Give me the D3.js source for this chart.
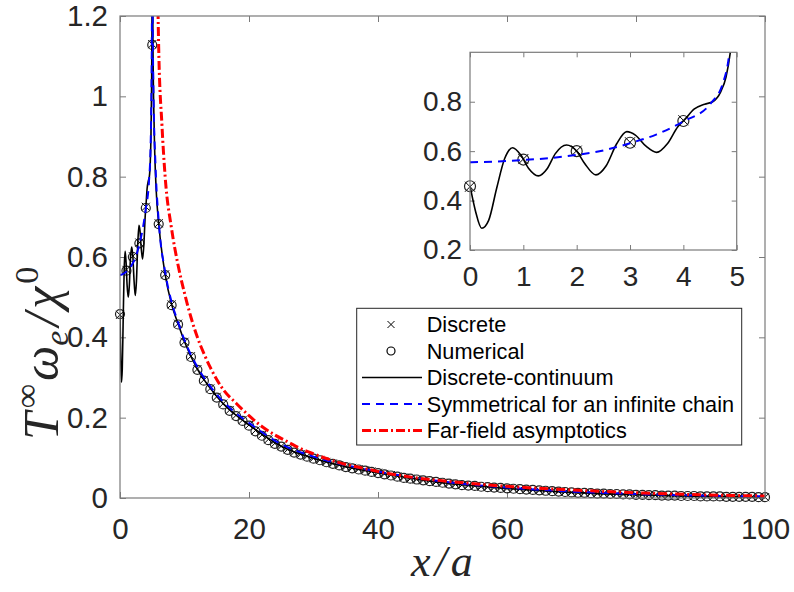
<!DOCTYPE html>
<html>
<head>
<meta charset="utf-8">
<script src="https://cdn.jsdelivr.net/npm/d3@7"></script>
<style>
  body { margin: 0; background: #fff; }
  svg { display: block; }
</style>
</head>
<body>
<svg id="chart" width="794" height="592"></svg>
<script>
// ---- data ----
const markerX = d3.range(0, 101); // sites x/a = 0..100

const discreteY = [
  0.456, 0.568, 0.602, 0.636, 0.725, 1.130, 0.684, 0.557, 0.482, 0.434,
  0.389, 0.353, 0.321, 0.294, 0.273, 0.252, 0.235, 0.219, 0.206, 0.194,
  0.182, 0.168, 0.157, 0.146, 0.136, 0.129, 0.121, 0.114, 0.109, 0.104,
  0.099, 0.095, 0.090, 0.086, 0.082, 0.078, 0.075, 0.072, 0.069, 0.066,
  0.063, 0.060, 0.057, 0.054, 0.051, 0.048, 0.046, 0.044, 0.042, 0.040,
  0.038, 0.036, 0.034, 0.032, 0.031, 0.030, 0.028, 0.027, 0.026, 0.025,
  0.024, 0.023, 0.022, 0.021, 0.020, 0.019, 0.018, 0.017, 0.016, 0.015,
  0.014, 0.013, 0.013, 0.012, 0.011, 0.011, 0.010, 0.010, 0.009, 0.009,
  0.008, 0.008, 0.007, 0.007, 0.006, 0.006, 0.006, 0.005, 0.005, 0.005,
  0.004, 0.004, 0.004, 0.004, 0.003, 0.003, 0.003, 0.003, 0.003, 0.002,
  0.002
];

const numericalY = [
  0.458, 0.566, 0.600, 0.634, 0.722, 1.128, 0.682, 0.555, 0.480, 0.432,
  0.387, 0.351, 0.319, 0.292, 0.271, 0.250, 0.233, 0.217, 0.204, 0.192,
  0.180, 0.166, 0.155, 0.144, 0.135, 0.128, 0.120, 0.113, 0.108, 0.103,
  0.098, 0.094, 0.089, 0.085, 0.081, 0.077, 0.074, 0.071, 0.068, 0.065,
  0.062, 0.059, 0.056, 0.053, 0.050, 0.048, 0.046, 0.044, 0.042, 0.040,
  0.038, 0.036, 0.034, 0.032, 0.031, 0.030, 0.028, 0.027, 0.026, 0.025,
  0.024, 0.023, 0.022, 0.021, 0.020, 0.019, 0.018, 0.017, 0.016, 0.015,
  0.014, 0.013, 0.013, 0.012, 0.011, 0.011, 0.010, 0.010, 0.009, 0.009,
  0.008, 0.008, 0.007, 0.007, 0.006, 0.006, 0.006, 0.005, 0.005, 0.005,
  0.004, 0.004, 0.004, 0.004, 0.003, 0.003, 0.003, 0.003, 0.003, 0.002,
  0.002
];

// discrete-continuum (black solid)
const contX = [0, 0.1, 0.22, 0.35, 0.5, 0.65, 0.8, 0.95, 1.1, 1.28, 1.45, 1.6, 1.81, 2.0, 2.15, 2.36,
  2.55, 2.75, 2.94, 3.1, 3.3, 3.5, 3.7, 3.9, 4.02, 4.2, 4.4, 4.55, 4.7, 4.8, 4.88, 4.95, 5.0,
  5.1, 5.3, 5.6, 6, 7, 8, 9, 10, 12, 14, 16, 18, 20, 25, 30, 35, 40, 50, 60, 70, 80, 90, 100];
const contY = [0.46, 0.36, 0.288, 0.32, 0.45, 0.57, 0.614, 0.585, 0.53, 0.50, 0.53, 0.59, 0.625, 0.60, 0.55, 0.504,
  0.54, 0.63, 0.679, 0.665, 0.62, 0.595, 0.63, 0.70, 0.726, 0.77, 0.79, 0.80, 0.84, 0.90, 1.0, 1.15, 1.6,
  1.15, 0.92, 0.77, 0.684, 0.557, 0.482, 0.434, 0.389, 0.321, 0.273, 0.235, 0.206, 0.182, 0.129, 0.099, 0.078, 0.063, 0.038, 0.024, 0.014, 0.008, 0.004, 0.002];

// symmetrical for an infinite chain (blue dashed)
const symX = [0, 0.5, 1, 1.5, 2, 2.5, 3, 3.5, 4, 4.5, 4.75, 4.85, 4.95, 5.0, 5.05, 5.2, 5.5, 6, 7, 8, 9, 10,
  12, 14, 16, 18, 20, 25, 30, 35, 40, 50, 60, 70, 80, 90, 100];
const symY = [0.555, 0.558, 0.564, 0.572, 0.585, 0.603, 0.632, 0.668, 0.72, 0.79, 0.88, 0.976, 1.2, 1.6, 1.25, 1.0, 0.83, 0.69, 0.563, 0.488, 0.438, 0.393,
  0.326, 0.278, 0.240, 0.211, 0.187, 0.134, 0.103, 0.082, 0.066, 0.041, 0.026, 0.016, 0.010, 0.006, 0.004];

// far-field asymptotics (red dash-dot)
const farX = [5.8, 6, 6.5, 7, 8, 9, 10, 11, 12, 13, 14, 15, 16, 18, 20, 22, 24, 26, 28, 30, 34, 38, 42, 46, 50,
  60, 70, 80, 90, 100];
const farY = [1.30, 1.12, 0.93, 0.80, 0.67, 0.58, 0.51, 0.45, 0.40, 0.36, 0.325, 0.295, 0.27, 0.236, 0.205, 0.178, 0.157, 0.14, 0.123, 0.11, 0.088, 0.073, 0.06, 0.05, 0.043,
  0.029, 0.02, 0.013, 0.008, 0.005];

const xTicks = [0, 20, 40, 60, 80, 100];
const yTicks = [0, 0.2, 0.4, 0.6, 0.8, 1, 1.2];
const insetXTicks = [0, 1, 2, 3, 4, 5];
const insetYTicks = [0.2, 0.4, 0.6, 0.8];
const legendLabels = ['Discrete', 'Numerical', 'Discrete-continuum', 'Symmetrical for an infinite chain', 'Far-field asymptotics'];

// ---- drawing ----
const svg = d3.select('#chart');
const axisGray = '#7a7a7a';
const textGray = '#262626';
const font = '"Liberation Sans", Arial, sans-serif';
const mathFont = '"Liberation Serif", "DejaVu Serif", serif';

const x = d3.scaleLinear().domain([0, 100]).range([120, 765]);
const y = d3.scaleLinear().domain([0, 1.2]).range([498, 16]);

const ix = d3.scaleLinear().domain([0, 5]).range([470, 736.7]);
const iy = d3.scaleLinear().domain([0.2, 1.0]).range([250, 52.3]);

const defs = svg.append('defs');
defs.append('clipPath').attr('id', 'clipMain').append('rect')
  .attr('x', 120).attr('y', 16).attr('width', 645).attr('height', 482);
defs.append('clipPath').attr('id', 'clipInset').append('rect')
  .attr('x', ix(0)).attr('y', iy(1.0)).attr('width', ix(5) - ix(0)).attr('height', iy(0.2) - iy(1.0));

function zip(xs, ys) { return xs.map((d, i) => [d, ys[i]]); }

function drawPlot(g, sx, sy, r, crossSize, clipId) {
  const line = d3.line().x(d => sx(d[0])).y(d => sy(d[1])).curve(d3.curveMonotoneX);
  // markers are not clipped, but only those whose centre is inside the axes are drawn
  const [x0, x1] = sx.domain(), [y0, y1] = sy.domain();
  const inside = d => d[0] >= x0 && d[0] <= x1 && d[1] >= y0 && d[1] <= y1;
  const pts = zip(markerX, discreteY).filter(inside);
  const pts2 = zip(markerX, numericalY).filter(inside);

  // Discrete: x markers
  g.append('g').selectAll('path').data(pts).join('path')
    .attr('d', d => {
      const cx = sx(d[0]), cy = sy(d[1]), s = crossSize;
      return `M${cx - s},${cy - s}L${cx + s},${cy + s}M${cx - s},${cy + s}L${cx + s},${cy - s}`;
    })
    .attr('stroke', '#000').attr('stroke-width', 1).attr('fill', 'none');

  // Numerical: circles
  g.append('g').selectAll('circle').data(pts2).join('circle')
    .attr('cx', d => sx(d[0])).attr('cy', d => sy(d[1])).attr('r', r)
    .attr('fill', 'none').attr('stroke', '#222').attr('stroke-width', 1.2);

  const lines = g.append('g').attr('clip-path', `url(#${clipId})`);
  lines.append('path').datum(zip(contX, contY))
    .attr('d', line).attr('fill', 'none').attr('stroke', '#000').attr('stroke-width', 1.6);

  lines.append('path').datum(zip(symX, symY))
    .attr('d', line).attr('fill', 'none').attr('stroke', '#0000ff').attr('stroke-width', 2)
    .attr('stroke-dasharray', '8,6');

  lines.append('path').datum(zip(farX, farY))
    .attr('d', line).attr('fill', 'none').attr('stroke', '#ff0000').attr('stroke-width', 3)
    .attr('stroke-dasharray', '9,3,2,3');
}

function styleAxis(g, fs) {
  g.select('.domain').remove();
  g.selectAll('line').attr('stroke', axisGray);
  g.selectAll('text').attr('fill', textGray).attr('font-size', fs).attr('font-family', font);
}

// main axes
svg.append('rect').attr('x', 120).attr('y', 16).attr('width', 645).attr('height', 482)
  .attr('fill', '#fff');

const fmt = d => String(d);
svg.append('g').attr('transform', 'translate(0,498)')
  .call(d3.axisBottom(x).tickValues(xTicks).tickFormat(fmt).tickSizeInner(-6).tickSizeOuter(0).tickPadding(20))
  .call(g => styleAxis(g, 29.5));
svg.append('g').attr('transform', 'translate(0,16)')
  .call(d3.axisTop(x).tickValues(xTicks).tickFormat('').tickSizeInner(-6).tickSizeOuter(0))
  .call(g => styleAxis(g, 29.5));
svg.append('g').attr('transform', 'translate(120,0)')
  .call(d3.axisLeft(y).tickValues(yTicks).tickFormat(fmt).tickSizeInner(-6).tickSizeOuter(0).tickPadding(12))
  .call(g => styleAxis(g, 29.5));
svg.append('g').attr('transform', 'translate(765,0)')
  .call(d3.axisRight(y).tickValues(yTicks).tickFormat('').tickSizeInner(-6).tickSizeOuter(0))
  .call(g => styleAxis(g, 29.5));

drawPlot(svg.append('g'), x, y, 4.5, 4, 'clipMain');

svg.append('rect').attr('x', 120).attr('y', 16).attr('width', 645).attr('height', 482)
  .attr('fill', 'none').attr('stroke', axisGray).attr('stroke-width', 1.2);

// axis labels
const yLab = svg.append('text')
  .attr('transform', 'translate(58,440) rotate(-90)')
  .attr('text-anchor', 'start')
  .attr('font-family', mathFont)
  .attr('font-size', 50).attr('fill', textGray);
yLab.append('tspan').attr('font-style', 'italic').text('T');
yLab.append('tspan').attr('font-size', 34).attr('dx', 4).attr('dy', -20).text('∞');
yLab.append('tspan').attr('font-style', 'italic').attr('dx', 3).attr('dy', 20).text('ω');
yLab.append('tspan').attr('font-style', 'italic').attr('font-size', 34).attr('dy', 10).text('e');
yLab.append('tspan').attr('font-style', 'italic').attr('dx', 4).attr('dy', -10).text('/');
yLab.append('tspan').attr('font-style', 'italic').attr('dx', 4).text('χ');
yLab.append('tspan').attr('font-size', 34).attr('dx', 3).attr('dy', -20).text('0');

svg.append('text')
  .attr('x', 444).attr('y', 576).attr('text-anchor', 'middle')
  .attr('font-family', mathFont)
  .attr('font-style', 'italic').attr('font-size', 44).attr('fill', textGray)
  .attr('letter-spacing', 4)
  .text('x/a');

// inset
svg.append('rect').attr('x', ix(0)).attr('y', iy(1.0)).attr('width', ix(5) - ix(0)).attr('height', iy(0.2) - iy(1.0))
  .attr('fill', '#fff');
svg.append('g').attr('transform', `translate(0,${iy(0.2)})`)
  .call(d3.axisBottom(ix).tickValues(insetXTicks).tickFormat(fmt).tickSizeInner(-5).tickSizeOuter(0).tickPadding(16))
  .call(g => styleAxis(g, 28));
svg.append('g').attr('transform', `translate(0,${iy(1.0)})`)
  .call(d3.axisTop(ix).tickValues(insetXTicks).tickFormat('').tickSizeInner(-5).tickSizeOuter(0))
  .call(g => styleAxis(g, 28));
svg.append('g').attr('transform', `translate(${ix(0)},0)`)
  .call(d3.axisLeft(iy).tickValues(insetYTicks).tickFormat(fmt).tickSizeInner(-5).tickSizeOuter(0).tickPadding(8))
  .call(g => styleAxis(g, 28));
svg.append('g').attr('transform', `translate(${ix(5)},0)`)
  .call(d3.axisRight(iy).tickValues(insetYTicks).tickFormat('').tickSizeInner(-5).tickSizeOuter(0))
  .call(g => styleAxis(g, 28));

drawPlot(svg.append('g'), ix, iy, 5.5, 5, 'clipInset');

svg.append('rect').attr('x', ix(0)).attr('y', iy(1.0)).attr('width', ix(5) - ix(0)).attr('height', iy(0.2) - iy(1.0))
  .attr('fill', 'none').attr('stroke', axisGray).attr('stroke-width', 1.2);

// legend
const leg = svg.append('g');
leg.append('rect').attr('x', 356.7).attr('y', 308.3).attr('width', 385).attr('height', 136.7)
  .attr('fill', '#fff').attr('stroke', textGray).attr('stroke-width', 1);

const rowY = i => 324.5 + i * 26.5;
const rows = leg.selectAll('g.row').data(legendLabels).join('g').attr('class', 'row')
  .attr('transform', (d, i) => `translate(0,${rowY(i)})`);
rows.append('text').attr('x', 426.7).attr('dy', '0.35em')
  .attr('font-family', font).attr('font-size', 21.7).attr('fill', '#000')
  .text(d => d);

leg.append('path').attr('transform', `translate(391,${rowY(0)})`)
  .attr('d', 'M-3.5,-3.5L3.5,3.5M-3.5,3.5L3.5,-3.5').attr('stroke', '#000').attr('stroke-width', 1);
leg.append('circle').attr('cx', 391).attr('cy', rowY(1)).attr('r', 4)
  .attr('fill', 'none').attr('stroke', '#000').attr('stroke-width', 1.2);
leg.append('line').attr('x1', 362).attr('x2', 422).attr('y1', rowY(2)).attr('y2', rowY(2))
  .attr('stroke', '#000').attr('stroke-width', 1.6);
leg.append('line').attr('x1', 362).attr('x2', 422).attr('y1', rowY(3)).attr('y2', rowY(3))
  .attr('stroke', '#0000ff').attr('stroke-width', 2).attr('stroke-dasharray', '8,6');
leg.append('line').attr('x1', 362).attr('x2', 422).attr('y1', rowY(4)).attr('y2', rowY(4))
  .attr('stroke', '#ff0000').attr('stroke-width', 3).attr('stroke-dasharray', '9,3,2,3');
</script>
</body>
</html>
